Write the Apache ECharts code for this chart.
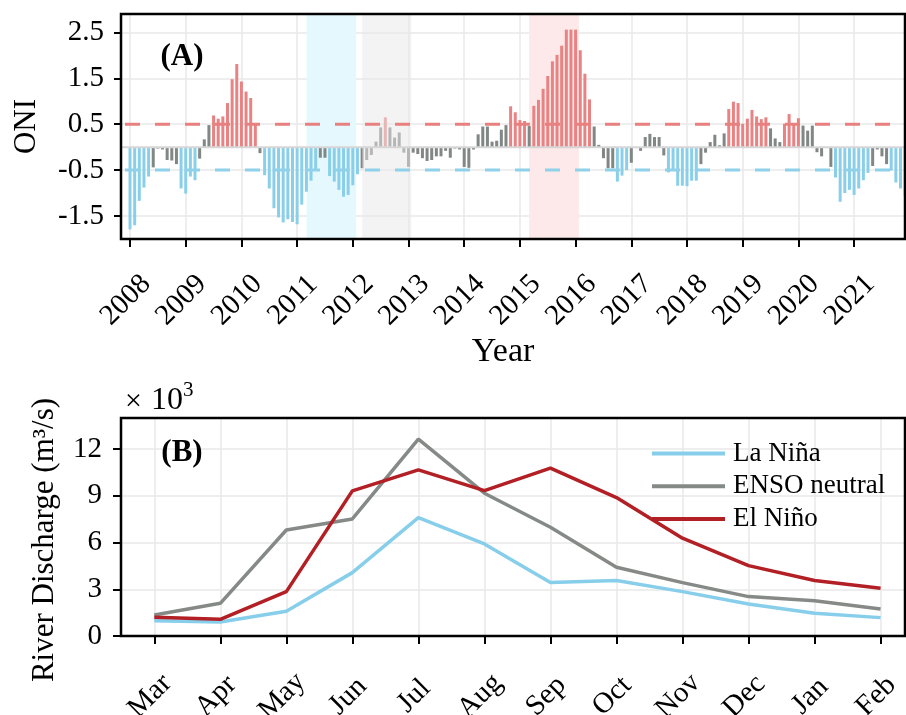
<!DOCTYPE html>
<html>
<head>
<meta charset="utf-8">
<script src="https://cdn.jsdelivr.net/npm/echarts@6/dist/echarts.min.js"></script>
<style>
html,body{margin:0;padding:0;background:#fff;}
#chart{width:906px;height:715px;}
</style>
</head>
<body>
<div id="chart"></div>
<script>
// ---------- DATA ----------
const yearTicks = [2008,2009,2010,2011,2012,2013,2014,2015,2016,2017,2018,2019,2020,2021];
const oniTicks = [-1.5,-0.5,0.5,1.5,2.5];
// Monthly ONI, Jan 2008 .. Dec 2021
const oni = [
  -1.79,-1.70,-1.17,-0.88,-0.64,-0.44,-0.03,-0.05,-0.28,-0.29,-0.37,-0.90,
  -1.01,-0.64,-0.72,-0.25,0.17,0.48,0.69,0.62,0.67,0.96,1.48,1.81,
  1.43,1.21,1.07,0.52,-0.13,-0.61,-0.90,-1.33,-1.53,-1.64,-1.57,-1.63,
  -1.68,-1.25,-0.97,-0.73,-0.50,-0.23,-0.23,-0.63,-0.75,-0.93,-1.08,-1.04,
  -0.83,-0.59,-0.46,-0.28,-0.17,0.12,0.43,0.65,0.43,0.21,0.32,-0.12,
  -0.43,-0.12,-0.15,-0.24,-0.30,-0.28,-0.20,-0.20,-0.08,-0.23,-0.03,-0.05,
  -0.43,-0.45,-0.05,0.28,0.45,0.45,0.12,0.14,0.38,0.48,0.89,0.76,
  0.59,0.57,0.46,0.90,1.03,1.27,1.55,1.87,2.01,2.21,2.56,2.56,
  2.56,2.11,1.60,1.04,0.45,0.05,-0.24,-0.46,-0.46,-0.75,-0.62,-0.50,
  -0.34,-0.02,-0.08,0.22,0.29,0.22,0.22,-0.18,-0.55,-0.50,-0.84,-0.84,
  -0.85,-0.73,-0.73,-0.37,-0.12,0.11,0.27,0.04,0.30,0.83,0.99,0.96,
  0.51,0.62,0.81,0.67,0.61,0.65,0.41,0.19,0.11,0.51,0.72,0.50,
  0.63,0.47,0.36,0.47,-0.11,-0.20,-0.02,-0.43,-0.66,-1.19,-1.00,-0.93,
  -1.04,-0.90,-0.72,-0.56,-0.41,-0.05,-0.20,-0.37,-0.51,-0.77,-0.90,-1.06
];
// Phase per month: L = La Niña, N = neutral, E = El Niño
const phase = (
  "LLLLLNNNNNNL" + "LLLNNNEEEEEE" + "EEEENLLLLLLL" + "LLLLLNNLLLLL" +
  "LLNNNNNENNNN" + "NNNNNNNNNNNN" + "NNNNNNNNNNEE" + "EENEEEEEEEEE" +
  "EEEENNNNNLLL" + "NNNNNNNNLLLL" + "LLLNNNNNNEEE" + "EEEEEENNNEEE" +
  "ENNNNNNNLLLL" + "LLLLNNNNLLLL"
).split("");
const thresholds = [0.5, -0.5];
// Highlighted hydrological years (decimal year start, end)
const laNinaPeriod = [2011.17, 2012.06];
const neutralPeriod = [2012.17, 2013.05];
const elNinoPeriod = [2015.165, 2016.06];

const months = ["Mar","Apr","May","Jun","Jul","Aug","Sep","Oct","Nov","Dec","Jan","Feb"];
const dischargeTicks = [0,3,6,9,12];
const laNina  = [0.98,0.90,1.59,4.07,7.60,5.91,3.43,3.56,2.85,2.06,1.46,1.18];
const neutral = [1.35,2.10,6.81,7.52,12.64,9.17,6.98,4.41,3.43,2.53,2.27,1.74];
const elNino  = [1.20,1.07,2.85,9.32,10.67,9.34,10.78,8.89,6.28,4.52,3.56,3.07];

// ---------- STYLE ----------
const FONT = "'Liberation Serif','Times New Roman',serif";
const C_L = '#8ACFEA', C_N = '#808785', C_E = '#E98283';
const phaseColor = {L: C_L, N: C_N, E: C_E};

const chart = echarts.init(document.getElementById('chart'), null, {renderer:'canvas'});

const xMinA = 2007.838, xMaxA = 2021.914, yMinA = -2, yMaxA = 2.9;

function shadeRender(colors){
  return function(params, api){
    const p0 = api.coord([api.value(0), yMaxA]);
    const p1 = api.coord([api.value(1), yMinA]);
    return {type:'rect', shape:{x:p0[0], y:p0[1], width:p1[0]-p0[0], height:p1[1]-p0[1]},
            style:{fill: colors[api.value(2)]}};
  };
}

const gridLine = {show:true, lineStyle:{color:'#e9e9e9', width:1.5}};
const tickStyle = {color:'#000', width:2};
const labelBase = {color:'#000', fontFamily:FONT, fontSize:29};
const noLine = {show:false, onZero:false};

const option = {
  animation:false,
  backgroundColor:'#fff',
  textStyle:{fontFamily:FONT},
  grid:[
    {left:121, top:14, width:784, height:225, show:true, borderColor:'#000', borderWidth:2.5, z:10,
     backgroundColor:'transparent', containLabel:false, outerBoundsMode:'none'},
    {left:121, top:418, width:784, height:218, show:true, borderColor:'#000', borderWidth:2.5, z:10,
     backgroundColor:'transparent', containLabel:false, outerBoundsMode:'none'}
  ],
  xAxis:[
    {gridIndex:0, type:'value', min:xMinA, max:xMaxA,
     axisLine:noLine,
     axisTick:{show:true, customValues:yearTicks, length:8, lineStyle:tickStyle},
     axisLabel:Object.assign({}, labelBase, {customValues:yearTicks, formatter:v=>String(Math.round(v)),
       rotate:45, align:'center', verticalAlign:'middle', margin:57, padding:[0,12,0,0]}),
     splitLine:gridLine},
    {gridIndex:1, type:'value', min:-0.504, max:11.37,
     axisLine:noLine,
     axisTick:{show:true, customValues:months.map((m,i)=>i), length:8, lineStyle:tickStyle},
     axisLabel:Object.assign({}, labelBase, {customValues:months.map((m,i)=>i), formatter:v=>months[Math.round(v)],
       rotate:45, align:'center', verticalAlign:'middle', margin:56, padding:[0,12,0,0]}),
     splitLine:gridLine}
  ],
  yAxis:[
    {gridIndex:0, type:'value', min:yMinA, max:yMaxA,
     axisLine:noLine,
     axisTick:{show:true, customValues:oniTicks, length:7, lineStyle:tickStyle},
     axisLabel:Object.assign({}, labelBase, {customValues:oniTicks, formatter:v=>v.toFixed(1), margin:17}),
     splitLine:gridLine},
    {gridIndex:1, type:'value', min:0, max:14,
     axisLine:noLine,
     axisTick:{show:true, customValues:dischargeTicks, length:8, lineStyle:tickStyle},
     axisLabel:Object.assign({}, labelBase, {customValues:dischargeTicks, formatter:v=>String(v), margin:19}),
     splitLine:gridLine}
  ],
  legend:{
    data:['La Niña','ENSO neutral','El Niño'],
    orient:'vertical', left:652, top:440, padding:0,
    icon:'rect', itemWidth:73, itemHeight:4, itemGap:5.7,
    textStyle:{fontFamily:FONT, fontSize:27, color:'#000', lineHeight:27, padding:[0,0,0,3]}
  },
  graphic:[
    {type:'text', x:27, y:126.5, rotation:Math.PI/2,
     style:{text:'ONI', fontFamily:FONT, fontSize:31, fill:'#000', align:'center', verticalAlign:'middle'}},
    {type:'text', x:503, y:352,
     style:{text:'Year', fontFamily:FONT, fontSize:34, fill:'#000', align:'center', verticalAlign:'middle'}},
    {type:'text', x:45, y:540, rotation:Math.PI/2,
     style:{text:'River Discharge (m³/s)', fontFamily:FONT, fontSize:31, fill:'#000', align:'center', verticalAlign:'middle'}},
    {type:'text', x:182, y:57, z:10,
     style:{text:'(A)', fontFamily:FONT, fontSize:31, fontWeight:'bold', fill:'#000', align:'center', verticalAlign:'middle'}},
    {type:'text', x:182, y:453, z:10,
     style:{text:'(B)', fontFamily:FONT, fontSize:31, fontWeight:'bold', fill:'#000', align:'center', verticalAlign:'middle'}},
    {type:'text', x:125, y:402,
     style:{text:'×', fontFamily:FONT, fontSize:30, fill:'#000', align:'left', verticalAlign:'middle'}},
    {type:'text', x:151, y:401,
     style:{text:'10', fontFamily:FONT, fontSize:32, fill:'#000', align:'left', verticalAlign:'middle'}},
    {type:'text', x:183, y:390,
     style:{text:'3', fontFamily:FONT, fontSize:21, fill:'#000', align:'left', verticalAlign:'middle'}}
  ],
  series:[
    {type:'custom', xAxisIndex:0, yAxisIndex:0, z:1, silent:true,
     renderItem:shadeRender(['#E5F8FE','#FDE9E9']),
     encode:{x:[0,1], y:2},
     data:[[laNinaPeriod[0], laNinaPeriod[1], 0], [elNinoPeriod[0], elNinoPeriod[1], 1]]},
    {type:'bar', name:'ONI', xAxisIndex:0, yAxisIndex:0, z:2, barWidth:3,
     data: oni.map((v,i)=>({value:[2008 + i/12, v], itemStyle:{color:phaseColor[phase[i]]}}))},
    {type:'custom', xAxisIndex:0, yAxisIndex:0, z:3, silent:true,
     renderItem:shadeRender(['rgba(232,232,232,0.5)']),
     encode:{x:[0,1], y:2},
     data:[[neutralPeriod[0], neutralPeriod[1], 0]]},
    {type:'line', xAxisIndex:0, yAxisIndex:0, z:4, silent:true, showSymbol:false,
     data:[[xMinA,0],[xMaxA,0]], lineStyle:{color:'#d6d6d6', width:2}},
    {type:'line', xAxisIndex:0, yAxisIndex:0, z:4, silent:true, showSymbol:false,
     data:[[xMinA,thresholds[0]],[xMaxA,thresholds[0]]],
     lineStyle:{color:'#E8807F', width:3, type:[15,15], dashOffset:26}},
    {type:'line', xAxisIndex:0, yAxisIndex:0, z:4, silent:true, showSymbol:false,
     data:[[xMinA,thresholds[1]],[xMaxA,thresholds[1]]],
     lineStyle:{color:'#8ED1E9', width:3, type:[15,15], dashOffset:26}},
    {type:'line', name:'La Niña', xAxisIndex:1, yAxisIndex:1, showSymbol:false, z:5,
     data: laNina.map((v,i)=>[i,v]), color:'#87CEEB', lineStyle:{color:'#87CEEB', width:3.5}},
    {type:'line', name:'ENSO neutral', xAxisIndex:1, yAxisIndex:1, showSymbol:false, z:5,
     data: neutral.map((v,i)=>[i,v]), color:'#858A87', lineStyle:{color:'#858A87', width:3.5}},
    {type:'line', name:'El Niño', xAxisIndex:1, yAxisIndex:1, showSymbol:false, z:5,
     data: elNino.map((v,i)=>[i,v]), color:'#B21F24', lineStyle:{color:'#B21F24', width:3.5}}
  ]
};
chart.setOption(option);
</script>
</body>
</html>
